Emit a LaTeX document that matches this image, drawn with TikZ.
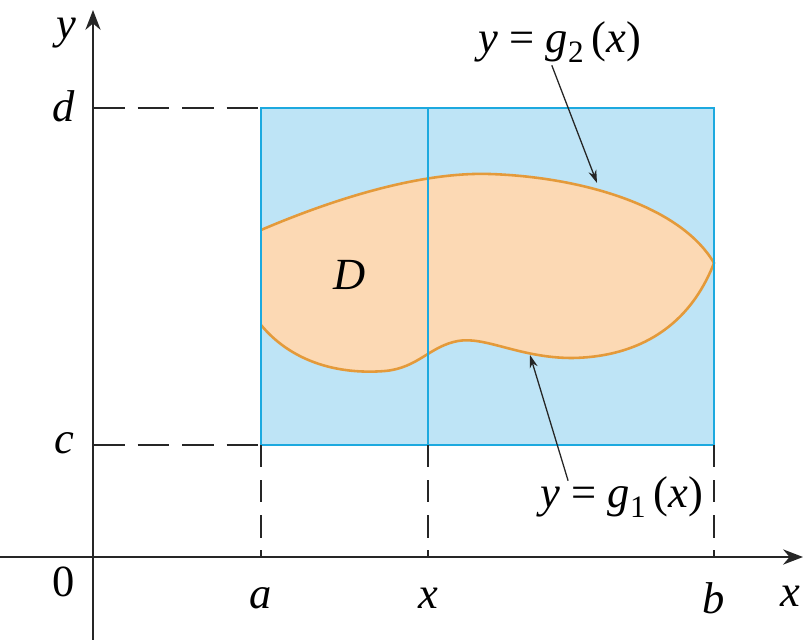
\documentclass[tikz,border=0pt]{standalone}
\usepackage{fontspec}
\setmainfont{Liberation Serif}
\usepackage{tikz}
\usetikzlibrary{arrows.meta}

\definecolor{rectfill}{HTML}{BEE4F6}
\definecolor{rectedge}{HTML}{1CA9DF}
\definecolor{regfill}{HTML}{FCD9B4}
\definecolor{regedge}{HTML}{E49A3A}

\newcommand{\iv}[1]{\textit{#1}}

\begin{document}
\begin{tikzpicture}[x=0.03cm, y=-0.03cm,
	every node/.style={font=\fontsize{38}{44}\selectfont, inner sep=2pt},
	axis/.style={line width=1.8pt, black!85, -{Stealth[length=17pt, width=13pt]}},
	hdash/.style={line width=1.8pt, black!85, dash pattern=on 27pt off 11pt},
	vdash/.style={line width=1.4pt, black!85, dash pattern=on 19pt off 11pt},
	edge/.style={line width=1.6pt, rectedge},
	pointer/.style={line width=1.1pt, black!85, -{Stealth[length=11pt, width=7pt]}}]
	\useasboundingbox (0,0) rectangle (803,640);
	% points
	\coordinate (O) at (93,557);
	\coordinate (ad) at (261,108); \coordinate (ac) at (261,445); \coordinate (aa) at (261,557);
	\coordinate (xd) at (428,108); \coordinate (xc) at (428,445); \coordinate (xx) at (428,557);
	\coordinate (bd) at (714,108); \coordinate (bc) at (714,445); \coordinate (bb) at (714,557);
	\coordinate (yd) at (93,108);  \coordinate (yc) at (93,445);
	\coordinate (topPt) at (597,183);
	\coordinate (botPt) at (530,355);
	% rectangle
	\fill[rectfill] (ad) rectangle (bc);
	% region D
	\fill[regfill] (261,230) .. controls (350,192) and (430,172) .. (490,174)
		.. controls (580,177) and (680,205) .. (714,263)
		.. controls (690,325) and (640,357) .. (572,358)
		.. controls (520,358) and (485,336) .. (458,341)
		.. controls (430,346) and (418,368) .. (385,371)
		.. controls (335,375) and (290,360) .. (261,325) -- cycle;
	\draw[regedge, line width=2.2pt] (261,230) .. controls (350,192) and (430,172) .. (490,174)
		.. controls (580,177) and (680,205) .. (714,263)
		.. controls (690,325) and (640,357) .. (572,358)
		.. controls (520,358) and (485,336) .. (458,341)
		.. controls (430,346) and (418,368) .. (385,371)
		.. controls (335,375) and (290,360) .. (261,325);
	\draw[edge] (ad) rectangle (bc);
	\draw[edge] (xd) -- (xc);
	% dashes
	\draw[hdash] (yd) -- (ad);
	\draw[hdash] (yc) -- (ac);
	\draw[vdash] (ac) -- (aa);
	\draw[vdash] (xc) -- (xx);
	\draw[vdash] (bc) -- (bb);
	% axes
	\draw[axis] (0,557) -- (803,557);
	\draw[axis] (93,640) -- (93,10);
	% labels
	\node (axY) at (66,33) {\iv{y}};
	\node (axX) at (790,596) {\iv{x}};
	\node (lblD) at (64,106) {\iv{d}};
	\node (lblC) at (64,443) {\iv{c}};
	\node (lblO) at (64,582) {0};
	\node (lblA) at (261,598) {\iv{a}};
	\node (lblX) at (428,598) {\iv{x}};
	\node (lblB) at (714,598) {\iv{b}};
	\node (regD) at (350,275) {\iv{D}};
	\node (gTwo) at (560,42) {\iv{y} = \iv{g}\textsubscript{2}\,(\iv{x})};
	\node (gOne) at (622,497) {\iv{y} = \iv{g}\textsubscript{1}\,(\iv{x})};
	% pointers
	\draw[pointer] ([xshift=-7pt]gTwo.south) -- (topPt);
	\draw[pointer] ([xshift=-46pt,yshift=-6pt]gOne.north) -- (botPt);
\end{tikzpicture}
\end{document}
